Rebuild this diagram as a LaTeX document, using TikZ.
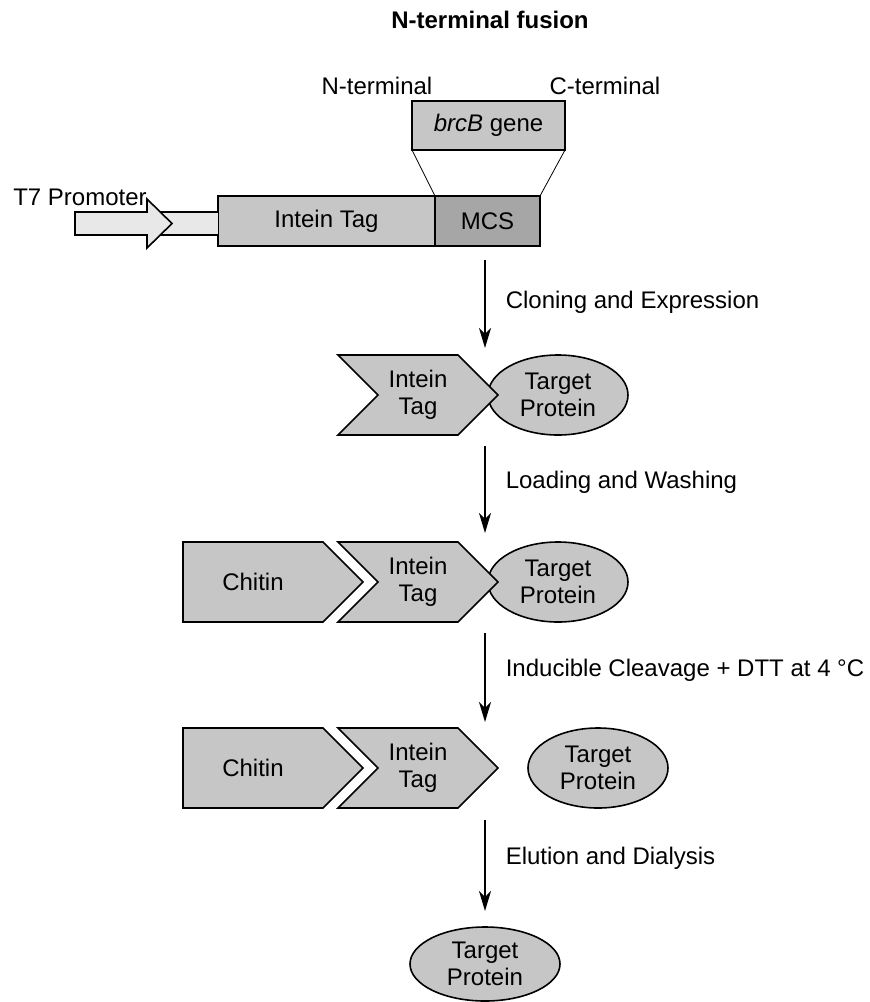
\documentclass[tikz,border=0pt]{standalone}
\usepackage{fontspec}
\setmainfont{Liberation Sans}
\usetikzlibrary{arrows.meta,shapes.geometric,shapes.symbols,positioning}

\begin{document}
\begin{tikzpicture}[x=0.5pt,y=-0.5pt,>={Stealth[length=10pt,width=6pt,inset=3pt]},
                    thick,every node/.style={font=\fontsize{12}{13.5}\selectfont},
                    gene box/.style={rectangle,draw,fill=gray!45,inner sep=0pt,outer sep=0pt,minimum height=25pt},
                    tag node/.style={signal,draw,fill=gray!45,signal from=west,signal to=east,
                                     minimum width=80pt,minimum height=40pt,inner sep=0pt,align=center},
                    chitin node/.style={signal,draw,fill=gray!45,signal to=east,
                                        minimum width=90pt,minimum height=40pt,inner sep=0pt},
                    protein node/.style={ellipse,draw,fill=gray!45,minimum width=70pt,
                                         minimum height=40pt,inner sep=0pt,align=center},
                    step label/.style={anchor=west,inner sep=0pt,xshift=10pt}]
  \useasboundingbox (0,0) rectangle (869,1002);

  \node[font=\fontsize{12}{13.5}\selectfont\bfseries] (title) at (490,20) {N-terminal fusion};
  \node (nterm) at (377,86) {N-terminal};
  \node (cterm) at (605,86) {C-terminal};

  % vector
  \node[gene box,minimum width=108.5pt] (tag) at (326.5,221) {Intein Tag};
  \node[gene box,fill=gray!70,minimum width=52.5pt,right=0pt of tag] (mcs) {MCS};
  \node[gene box,minimum width=76.5pt,minimum height=24.5pt] (gene) at (488.5,125.5) {\textit{brcB} gene};
  \draw[thin] (gene.south west) -- (mcs.north west)
              (gene.south east) -- (mcs.north east);

  \fill[gray!18] (147,212) rectangle (tag.west |- 0,235);
  \draw (147,212) -- (tag.west |- 0,212) (147,235) -- (tag.west |- 0,235);
  \draw[fill=gray!18] (75,212) -- (147,212) -- (147,199) -- (172,223.5)
                      -- (147,248) -- (147,235) -- (75,235) -- cycle;
  \node (t7) at (80,197) {T7 Promoter};

  % expressed fusion
  \node[protein node] (prot1) at (558,395) {Target\\Protein};
  \node[tag node] (tag1) at (418,395) {Intein\\Tag};

  % bound to chitin
  \node[protein node] (prot2) at (558,582) {Target\\Protein};
  \node[tag node] (tag2) at (418,582) {Intein\\Tag};
  \node[chitin node] (chitin2) at (253,582) {Chitin};

  % after cleavage
  \node[tag node] (tag3) at (418,768) {Intein\\Tag};
  \node[chitin node] (chitin3) at (253,768) {Chitin};
  \node[protein node] (prot3) at (598,768) {Target\\Protein};

  \node[protein node,minimum width=75pt,minimum height=37pt] (prot4) at (485,964) {Target\\Protein};

  \coordinate (a1) at (485,260);  \coordinate (b1) at (485,348);
  \coordinate (a2) at (485,446);  \coordinate (b2) at (485,533);
  \coordinate (a3) at (485,633);  \coordinate (b3) at (485,722);
  \coordinate (a4) at (485,820);  \coordinate (b4) at (485,911);

  \draw[->] (a1) -- node[step label,pos=0.48] {Cloning and Expression} (b1);
  \draw[->] (a2) -- node[step label,pos=0.42] {Loading and Washing} (b2);
  \draw[->] (a3) -- node[step label,pos=0.42] {Inducible Cleavage + DTT at 4 °C} (b3);
  \draw[->] (a4) -- node[step label,pos=0.42] {Elution and Dialysis} (b4);
\end{tikzpicture}
\end{document}
